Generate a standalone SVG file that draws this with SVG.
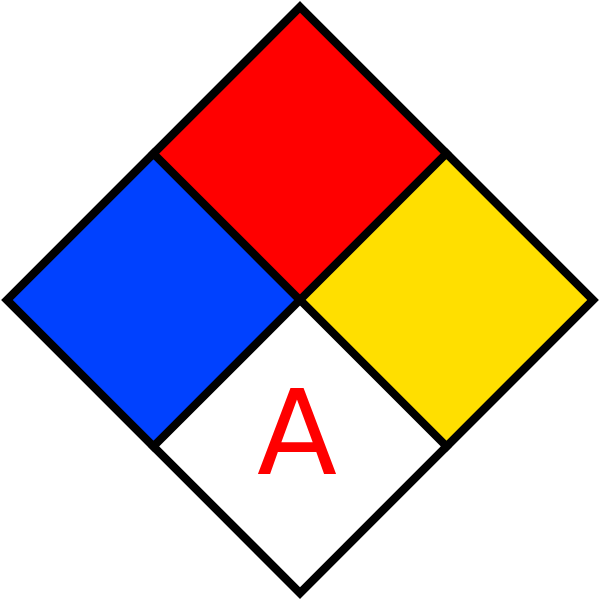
<svg xmlns="http://www.w3.org/2000/svg" width="600" height="600" viewBox="0 0 600 600">
<style>
.q{stroke:#000;stroke-width:8;stroke-linejoin:miter}
.t{font-family:"DejaVu Sans",sans-serif;font-size:117px;fill:#ff0000;text-anchor:middle}
</style>
<rect width="600" height="600" fill="#fff"/>
<g id="health"><polygon class="q" points="7,300 153.5,153.5 300,300 153.5,446.5" fill="#0041ff"/></g>
<g id="flammability"><polygon class="q" points="153.5,153.5 300,7 446.5,153.5 300,300" fill="#ff0000"/></g>
<g id="instability"><polygon class="q" points="300,300 446.5,153.5 593,300 446.5,446.5" fill="#ffdf00"/></g>
<g id="special"><polygon class="q" points="153.5,446.5 300,300 446.5,446.5 300,593" fill="#ffffff"/><text class="t" x="297" y="474">A</text></g>
<g id="outline"><polygon class="q" points="300,7 593,300 300,593 7,300" fill="none"/></g>
</svg>
